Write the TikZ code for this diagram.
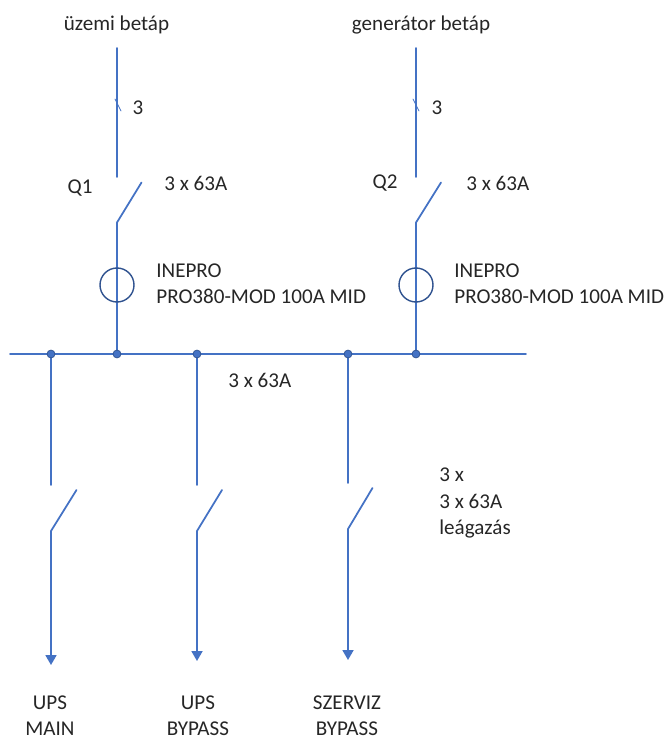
\documentclass[tikz,border=0pt]{standalone}
\usepackage{fontspec}
\setmainfont{Carlito}
\usepackage{tikz}
\usepackage{tkz-euclide}
\usetikzlibrary{arrows.meta}
\definecolor{wire}{HTML}{4472C4}
\definecolor{wiredark}{HTML}{2F528F}

\begin{document}
\begin{tikzpicture}[
  line/.style = {color=wire,line width=1pt},
  meter/.style = {color=wiredark,line width=0.8pt},
  tick/.style = {color=wire,line width=0.4pt},
  junction/.style = {color=wiredark,fill=wire},
  label/.style = {inner sep=0pt,font=\fontsize{12}{14.9}\selectfont,text=black!85,align=left},
  >={Stealth[inset=0pt,length=5.6pt,width=6.2pt]},
  x=0.02cm,y=0.02cm
]

  \useasboundingbox (0,-740) rectangle (665,0);

  % busbar
  \tkzDefPoint(10,-354){busL}
  \tkzDefPoint(526,-354){busR}

  % incoming feeders
  \tkzDefPoint(117,-48){A}
  \tkzDefPoint(117,-177){B}
  \tkzDefPoint(141.5,-182.5){C}
  \tkzDefPoint(117,-222.5){D}
  \tkzDefPoint(117,-354){E}
  \tkzDefPoint(117,-285){M}
  \tkzDefPoint(134,-285){U}
  \tkzDefPoint(115,-99){Ta}
  \tkzDefPoint(121,-111){Tb}

  \tkzDefPoint(416,-48){F}
  \tkzDefPoint(416,-177){G}
  \tkzDefPoint(441,-182.5){H}
  \tkzDefPoint(416,-222.5){I}
  \tkzDefPoint(416,-354){J}
  \tkzDefPoint(416,-285){N}
  \tkzDefPoint(433,-285){V}
  \tkzDefPoint(413,-99){Tc}
  \tkzDefPoint(419,-111){Td}

  % outgoing branches
  \tkzDefPoint(51,-354){K}
  \tkzDefPoint(51,-485){L}
  \tkzDefPoint(76.5,-490){O}
  \tkzDefPoint(51,-531){P}
  \tkzDefPoint(51,-665){Q}

  \tkzDefPoint(197,-354){R}
  \tkzDefPoint(197,-485){S}
  \tkzDefPoint(222,-490){T}
  \tkzDefPoint(197,-531){W}
  \tkzDefPoint(197,-661){X}

  \tkzDefPoint(348,-354){Y}
  \tkzDefPoint(348,-483){Z}
  \tkzDefPoint(372.5,-488){AA}
  \tkzDefPoint(348,-529){AB}
  \tkzDefPoint(348,-660){AC}

  \tkzDrawSegment[line](busL,busR)
  \tkzDrawSegment[line](A,B)
  \tkzDrawSegment[line](C,D)
  \tkzDrawSegment[line](D,E)
  \tkzDrawSegment[line](F,G)
  \tkzDrawSegment[line](H,I)
  \tkzDrawSegment[line](I,J)
  \tkzDrawSegment[tick](Ta,Tb)
  \tkzDrawSegment[tick](Tc,Td)

  \tkzDrawSegment[line](K,L)
  \tkzDrawSegment[line](O,P)
  \tkzDrawSegment[line,->](P,Q)
  \tkzDrawSegment[line](R,S)
  \tkzDrawSegment[line](T,W)
  \tkzDrawSegment[line,->](W,X)
  \tkzDrawSegment[line](Y,Z)
  \tkzDrawSegment[line](AA,AB)
  \tkzDrawSegment[line,->](AB,AC)

  \tkzDrawCircle[meter](M,U)
  \tkzDrawCircle[meter](N,V)

  \tkzDrawPoint[size=4.5,junction](K)
  \tkzDrawPoint[size=4.5,junction](E)
  \tkzDrawPoint[size=4.5,junction](R)
  \tkzDrawPoint[size=4.5,junction](Y)
  \tkzDrawPoint[size=4.5,junction](J)

  \node[label,anchor=center] (feedA) at (116.5,-25) {üzemi betáp};
  \node[label,anchor=center] (feedB) at (421,-25) {generátor betáp};
  \node[label,anchor=center] (cntA) at (138,-108) {3};
  \node[label,anchor=center] (cntB) at (437,-108) {3};
  \node[label,anchor=center] (q1) at (80,-188) {Q1};
  \node[label,anchor=center] (q2) at (385,-183) {Q2};
  \node[label,anchor=west] (ratA) at (164,-183) {3 x 63A};
  \node[label,anchor=west] (ratB) at (466,-183) {3 x 63A};
  \node[label,anchor=west] (mtrA) at (156,-284) {INEPRO\\PRO380-MOD 100A MID};
  \node[label,anchor=west] (mtrB) at (454,-284) {INEPRO\\PRO380-MOD 100A MID};
  \node[label,anchor=west] (ratBus) at (228,-380) {3 x 63A};
  \node[label,anchor=west] (ratOut) at (439,-503) {3 x\\3 x 63A\\leágazás};
  \node[label,align=center,anchor=center] (outA) at (50,-716) {UPS\\MAIN};
  \node[label,align=center,anchor=center] (outB) at (198,-716) {UPS\\BYPASS};
  \node[label,align=center,anchor=center] (outC) at (347,-716) {SZERVIZ\\BYPASS};

\end{tikzpicture}
\end{document}
